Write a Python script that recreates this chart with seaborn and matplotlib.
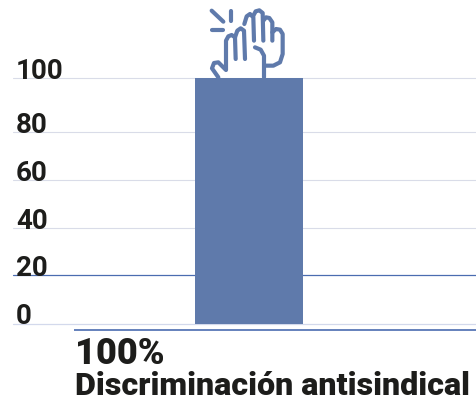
import matplotlib
matplotlib.use("Agg")
import matplotlib.pyplot as plt
import seaborn as sns
import pandas as pd

# datos
categorias = ["Discriminación antisindical"]
valores = [100]
ticks = [0, 20, 40, 60, 80, 100]
# la rejilla del original no es regular, posicion en px de cada tick
ticks_px = [324.5, 276, 229, 181, 133, 79.3]

azul = "#5f7aab"
azul_linea = "#4a6cb0"
gris = "#d9dce8"
negro = "#1d1d1b"

sns.set_style("white")
plt.rcParams["font.family"] = ["Roboto", "DejaVu Sans"]

fig = plt.figure(figsize=(4.77, 4.02), dpi=100)

# capa en pixeles para rejilla, icono y pie
capa = fig.add_axes([0, 0, 1, 1], facecolor="none")
capa.set_xlim(0, 477)
capa.set_ylim(402, 0)
capa.axis("off")

ax = fig.add_axes([13 / 477, 1 - 324.5 / 402, 464 / 477, 245.2 / 402], facecolor="none")

df = pd.DataFrame({"cat": categorias, "val": valores})
sns.barplot(data=df, x="cat", y="val", color=azul, saturation=1, width=0.5, linewidth=0, ax=ax, zorder=3)

# la barra ocupa 108 px de 464
ancho = 0.5 * 464 / 108
centro = (249 - 13) / 464 * ancho
ax.set_xlim(-centro, ancho - centro)
ax.set_ylim(0, 100)
ax.set_xticks([])
ax.set_yticks([])
ax.set_xlabel("")
ax.set_ylabel("")
for s in ax.spines.values():
    s.set_visible(False)

for t, py in zip(ticks, ticks_px):
    if t == 20:
        capa.plot([13, 477], [py, py], color=azul_linea, lw=0.9, zorder=1)
    elif t == 0:
        capa.plot([13, 477], [py, py], color="#d3d9ec", lw=0.9, zorder=1)
    else:
        capa.plot([13, 477], [py, py], color=gris, lw=0.8, zorder=1)
    capa.text(16, py, str(t), fontsize=20, fontweight="bold", color=negro,
              ha="left", va="baseline", zorder=4)

capa.plot([74, 477], [331, 331], color=azul_linea, lw=1.2, solid_capstyle="butt")
capa.text(75, 364.5, "100%", fontsize=26, fontweight="black", color=negro, va="baseline", ha="left")
capa.text(75, 395.5, "Discriminación antisindical", fontsize=23.2, fontweight="black",
          color=negro, va="baseline", ha="left")


def trazo(puntos):
    xs = [190 + p[0] / 3 for p in puntos]
    ys = [p[1] / 3 for p in puntos]
    capa.plot(xs, ys, color=azul, lw=3, solid_capstyle="round", solid_joinstyle="round", zorder=2)


# icono de la mano
trazo([(65, 35), (100, 68)])
trazo([(123, 35), (123, 65)])
trazo([(65, 93), (100, 93)])
trazo([(85, 235), (66, 208), (72, 192), (85, 190), (108, 213), (108, 125), (115, 112), (125, 108),
       (135, 115), (137, 180)])
trazo([(135, 115), (142, 95), (152, 88), (162, 95), (165, 180)])
trazo([(163, 75), (170, 52), (180, 45), (190, 55), (192, 125)])
trazo([(190, 50), (197, 37), (208, 34), (218, 42), (220, 125)])
trazo([(220, 65), (228, 55), (238, 57), (247, 70), (247, 125)])
trazo([(247, 100), (258, 90), (270, 92), (278, 105), (278, 165), (270, 190), (250, 200), (222, 200)])
trazo([(222, 235), (222, 170), (212, 152), (195, 145)])

fig.savefig("out.png", dpi=100)
